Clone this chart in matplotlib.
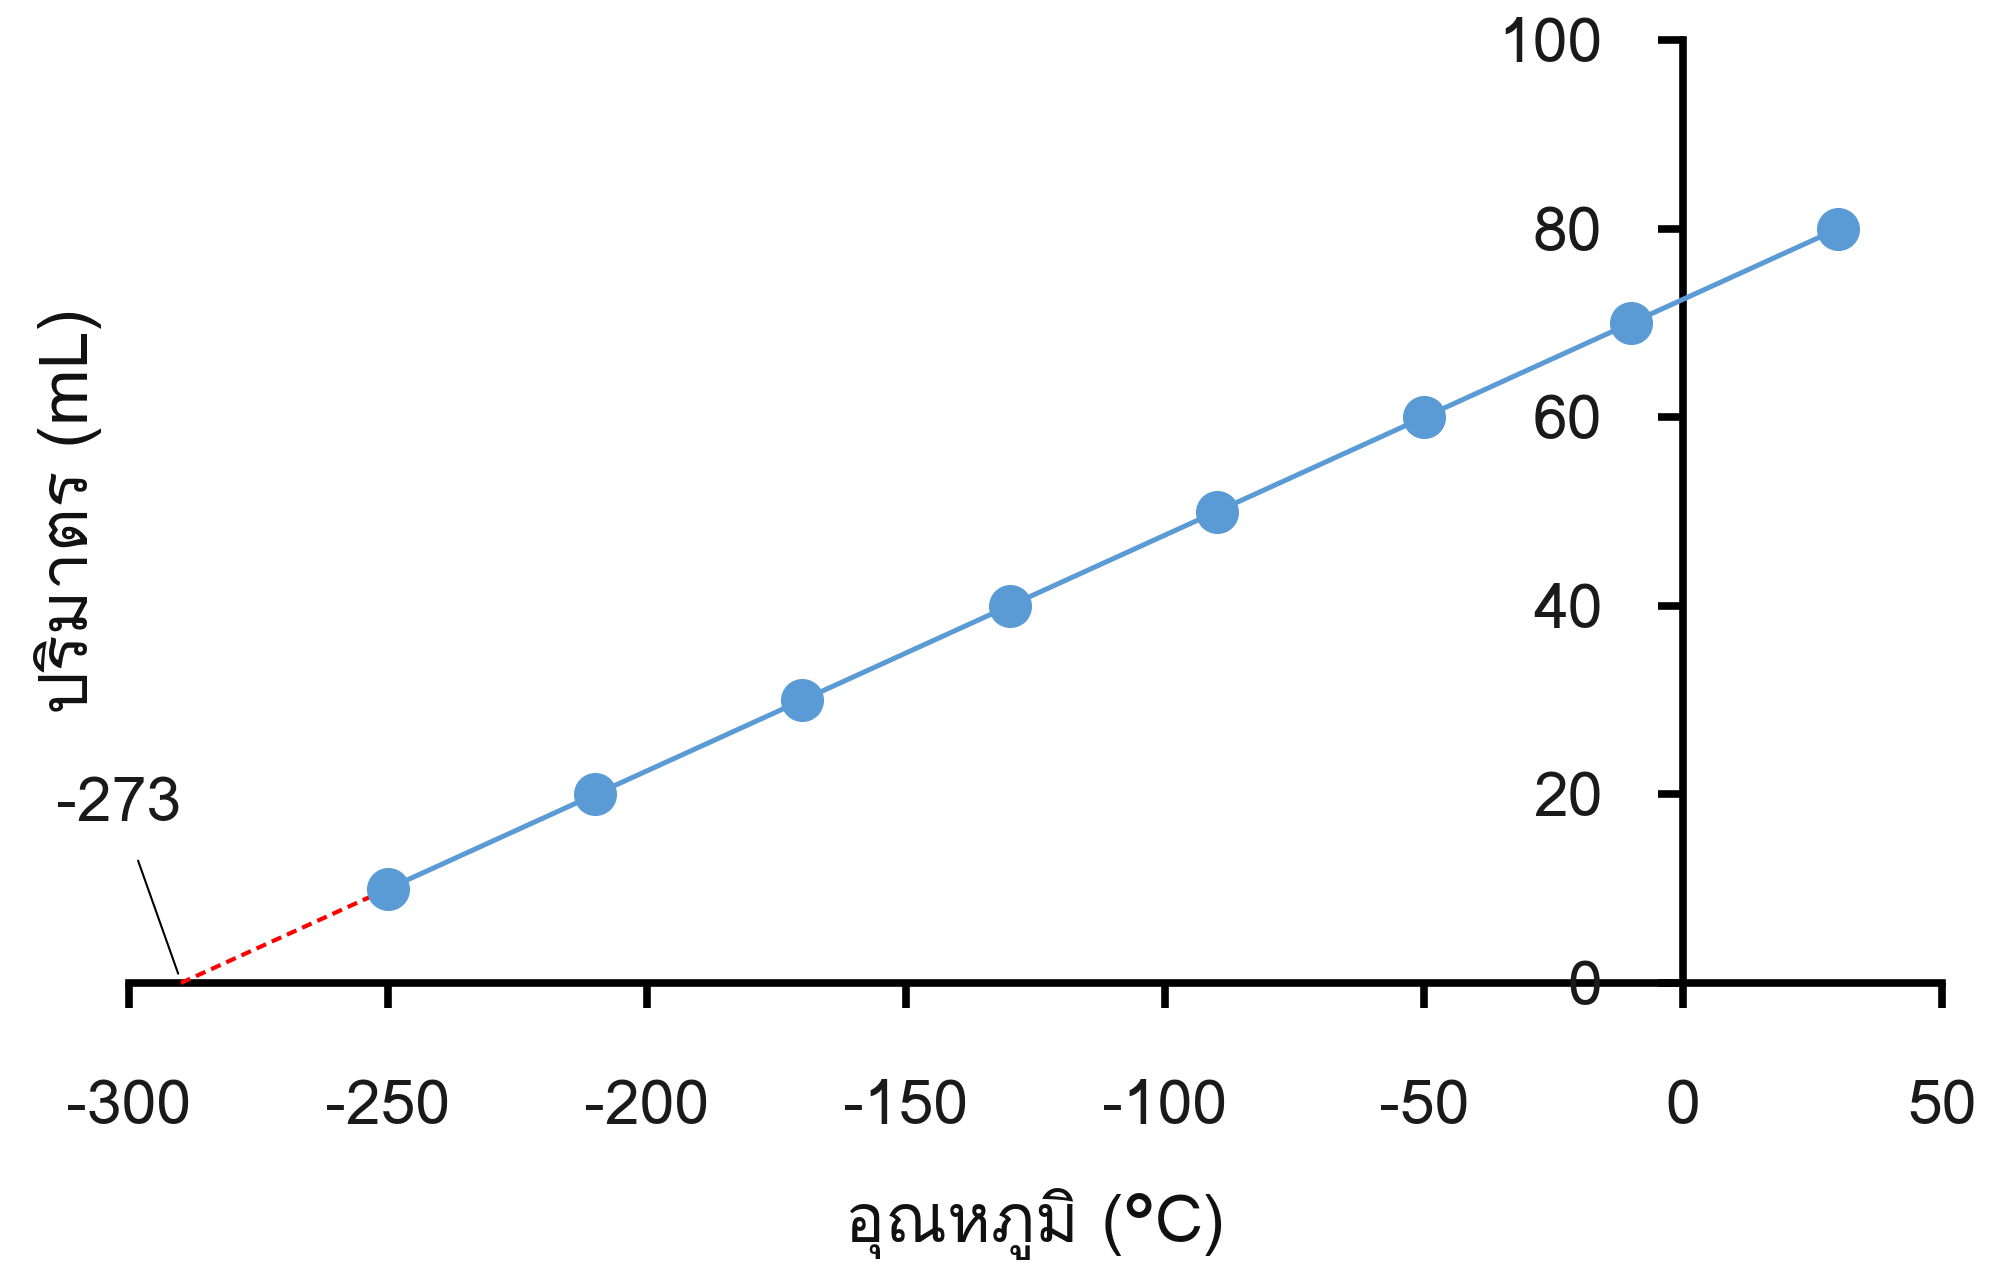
import matplotlib
matplotlib.use("Agg")
import matplotlib.pyplot as plt
from matplotlib import font_manager
from matplotlib.ft2font import FT2Font

# data
temps = [-250, -210, -170, -130, -90, -50, -10, 30]
volumes = [10, 20, 30, 40, 50, 60, 70, 80]
extrap_x = [-290, -250]
extrap_y = [0, 10]
x_ticks = [-300, -250, -200, -150, -100, -50, 0, 50]
y_ticks = [0, 20, 40, 60, 80, 100]
note_text = "-273"
note_point = (-290.5, 1.0)
note_text_pos = (-302, 18.8)
x_label = "อุณหภูมิ (°C)"
y_label = "ปริมาตร (mL)"

# find a font that has Thai glyphs
thai_font = None
for f in font_manager.fontManager.ttflist:
    try:
        if 0x0E2D in FT2Font(f.fname).get_charmap():
            thai_font = f.name
            break
    except Exception:
        pass
families = ([thai_font] if thai_font else []) + ["DejaVu Sans"]
plt.rcParams["font.family"] = families
plt.rcParams["axes.unicode_minus"] = False

fig = plt.figure(figsize=(19.9, 12.78), dpi=100)
ax = fig.add_axes([0.0648, 0.2308, 0.9111, 0.7379])

ax.plot(extrap_x, extrap_y, color="#ff0000", lw=3, ls=(0, (2.5, 1.5)), clip_on=False, zorder=2)
ax.plot(temps, volumes, color="#5b9bd5", lw=3.6, marker="o", markersize=30,
        clip_on=False, zorder=3)

ax.set_xlim(-300, 50)
ax.set_ylim(0, 100)
ax.set_xticks(x_ticks)
ax.set_yticks(y_ticks)

ax.spines["left"].set_position(("data", 0))
ax.spines["bottom"].set_position(("data", 0))
ax.spines["top"].set_visible(False)
ax.spines["right"].set_visible(False)
for s in ("left", "bottom"):
    ax.spines[s].set_linewidth(5.5)
    ax.spines[s].set_zorder(1)

ax.tick_params(axis="both", direction="out", length=18, width=5.5,
               labelsize=45, labelcolor="#1a1a1a")
ax.tick_params(axis="x", pad=52)
ax.tick_params(axis="y", pad=40)

ax.annotate(note_text, xy=note_point, xytext=note_text_pos, fontsize=45,
            color="#1a1a1a", ha="center", va="center", annotation_clip=False,
            arrowprops=dict(arrowstyle="-", color="black", lw=1.5, shrinkA=18, shrinkB=0))

fig.text(0.52, 0.042, x_label, fontsize=48, ha="center", va="center", color="#111111")
fig.text(0.034, 0.60, y_label, fontsize=49, ha="center", va="center", rotation=90, color="#111111")

fig.savefig("out.png", dpi=100)
